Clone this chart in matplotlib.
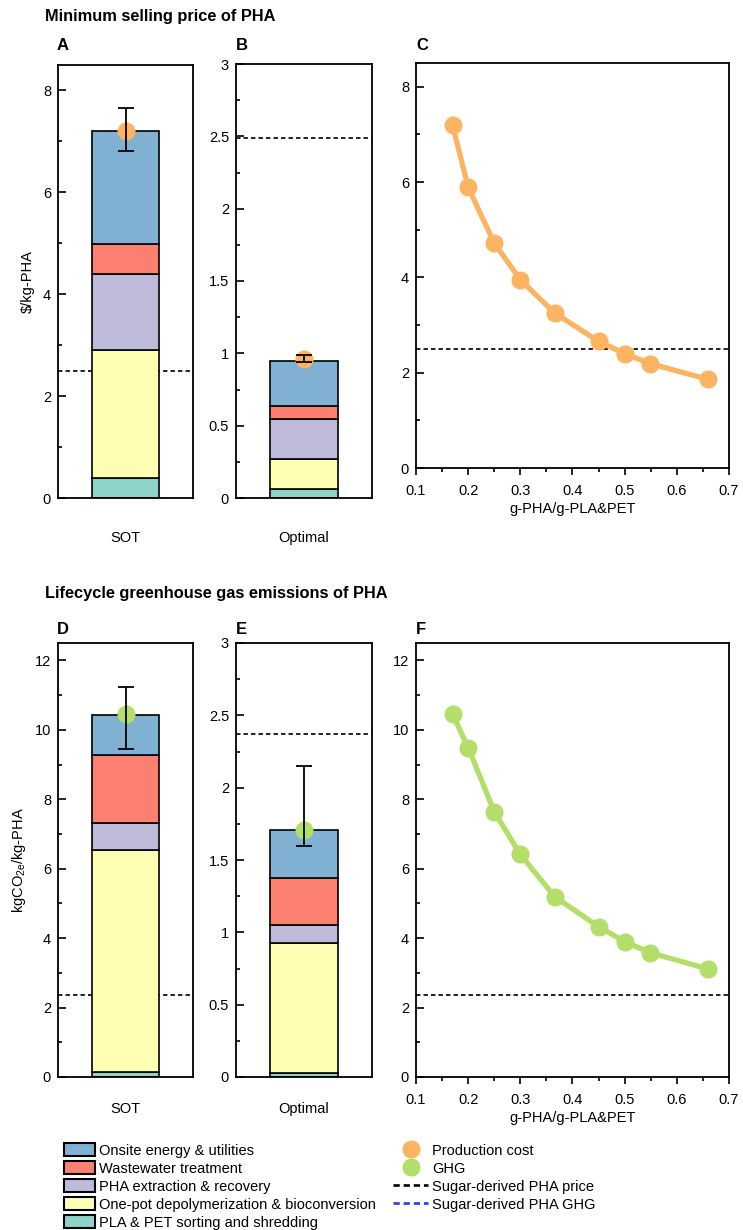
import matplotlib
matplotlib.use("Agg")
import matplotlib.pyplot as plt
from matplotlib.patches import Patch
from matplotlib.lines import Line2D
from matplotlib.ticker import MultipleLocator

plt.rcParams['font.family'] = ['Liberation Sans', 'DejaVu Sans']
plt.rcParams['lines.scale_dashes'] = False

# ---- data ----
stages = ["PLA & PET sorting and shredding",
          "One-pot depolymerization & bioconversion",
          "PHA extraction & recovery",
          "Wastewater treatment",
          "Onsite energy & utilities"]
stage_colors = ["#8DD3C7", "#FFFFB3", "#BEBADA", "#FB8072", "#80B1D3"]

# cost breakdown, $/kg-PHA (bottom to top)
cost_sot = [0.40, 2.50, 1.50, 0.58, 2.22]
cost_opt = [0.06, 0.21, 0.275, 0.09, 0.315]
cost_sot_total, cost_sot_err = 7.20, (0.38, 0.46)
cost_opt_total, cost_opt_err = 0.96, (0.02, 0.03)

# GHG breakdown, kgCO2e/kg-PHA (bottom to top)
ghg_sot = [0.13, 6.42, 0.78, 1.94, 1.16]
ghg_opt = [0.03, 0.894, 0.126, 0.327, 0.328]
ghg_sot_total, ghg_sot_err = 10.45, (1.00, 0.77)
ghg_opt_total, ghg_opt_err = 1.71, (0.11, 0.44)

sugar_pha_price = 2.49
sugar_pha_ghg = 2.37

# sensitivity to PHA yield
yield_ratio = [0.17, 0.20, 0.25, 0.30, 0.366, 0.45, 0.50, 0.549, 0.66]
cost_curve = [7.20, 5.89, 4.72, 3.95, 3.25, 2.66, 2.40, 2.19, 1.86]
ghg_curve = [10.45, 9.49, 7.64, 6.41, 5.19, 4.33, 3.90, 3.58, 3.11]

orange = "#FDB462"
green = "#B3DE69"
FS = 10.5

W, H = 743, 1230
fig = plt.figure(figsize=(W / 100, H / 100), dpi=100)


def px_axes(left, right, top, bottom):
    return fig.add_axes([left / W, 1 - bottom / H, (right - left) / W, (bottom - top) / H])


def style_axis(ax):
    for s in ax.spines.values():
        s.set_linewidth(1.3)
    ax.tick_params(axis='y', which='major', direction='in', length=6, width=1.2,
                   labelsize=FS, pad=5)
    ax.tick_params(axis='y', which='minor', direction='in', length=3, width=1.2)


def stacked(ax, segs, total, err, dot_color, label, ymax, major, minor, ref, pad):
    bottom = 0
    for v, c in zip(segs, stage_colors):
        ax.bar(0, v, width=1.0, bottom=bottom, color=c, edgecolor='black',
               linewidth=1.2, zorder=2)
        bottom += v
    ax.plot([0], [total], 'o', color=dot_color, markersize=12, zorder=3)
    ax.errorbar([0], [total], yerr=[[err[0]], [err[1]]], fmt='none', ecolor='black',
                elinewidth=1.3, capsize=5.8, capthick=1.3, zorder=4)
    ax.axhline(ref, color='black', linewidth=1.2, linestyle=(0, (3.2, 2.2)), zorder=1)
    ax.set_xlim(-1, 1)
    ax.set_ylim(0, ymax)
    ax.yaxis.set_major_locator(MultipleLocator(major))
    ax.yaxis.set_minor_locator(MultipleLocator(minor))
    ax.set_xticks([])
    ax.set_xlabel(label, fontsize=FS, labelpad=pad)
    style_axis(ax)


def curve(ax, y, color, ymax, ref):
    ax.plot(yield_ratio, y, '-o', color=color, linewidth=3.8, markersize=12, zorder=3)
    ax.axhline(ref, color='black', linewidth=1.2, linestyle=(0, (3.2, 2.2)), zorder=2)
    ax.set_xlim(0.1, 0.7)
    ax.set_ylim(0, ymax)
    ax.xaxis.set_minor_locator(MultipleLocator(0.05))
    ax.yaxis.set_major_locator(MultipleLocator(2))
    ax.yaxis.set_minor_locator(MultipleLocator(1))
    ax.set_xticks([0.1, 0.2, 0.3, 0.4, 0.5, 0.6, 0.7])
    ax.set_xticklabels(["0.1", "0.2", "0.3", "0.4", "0.5", "0.6", "0.7"])
    ax.tick_params(axis='x', which='major', direction='out', length=5, width=1.2,
                   labelsize=FS, pad=6.5)
    ax.tick_params(axis='x', which='minor', direction='out', length=3, width=1.2)
    ax.set_xlabel("g-PHA/g-PLA&PET", fontsize=FS, labelpad=3)
    style_axis(ax)


axA = px_axes(58, 193, 65, 498)
axB = px_axes(236, 372, 64, 498)
axC = px_axes(416, 729, 63, 468)
axD = px_axes(58, 193, 643, 1077)
axE = px_axes(236, 372, 643, 1077)
axF = px_axes(416, 729, 643, 1077)

stacked(axA, cost_sot, cost_sot_total, cost_sot_err, orange, "SOT", 8.5, 2, 1, sugar_pha_price, 24)
stacked(axB, cost_opt, cost_opt_total, cost_opt_err, orange, "Optimal", 3.0, 0.5, 0.25, sugar_pha_price, 24)
stacked(axD, ghg_sot, ghg_sot_total, ghg_sot_err, green, "SOT", 12.5, 2, 1, sugar_pha_ghg, 18)
stacked(axE, ghg_opt, ghg_opt_total, ghg_opt_err, green, "Optimal", 3.0, 0.5, 0.25, sugar_pha_ghg, 18)
curve(axC, cost_curve, orange, 8.5, sugar_pha_price)
curve(axF, ghg_curve, green, 12.5, sugar_pha_ghg)

for ax in (axB, axE):
    ax.set_yticks([0, 0.5, 1, 1.5, 2, 2.5, 3])
    ax.set_yticklabels(["0", "0.5", "1", "1.5", "2", "2.5", "3"])

axA.set_ylabel("$/kg-PHA", fontsize=FS, labelpad=6)
axD.set_ylabel(r"kgCO$_{\mathregular{2e}}$/kg-PHA", fontsize=FS, labelpad=5)

# titles and panel letters
fig.text(45 / W, 1 - 16 / H, "Minimum selling price of PHA", fontsize=11.8,
         fontweight='bold', va='center', ha='left')
fig.text(45 / W, 1 - 593 / H, "Lifecycle greenhouse gas emissions of PHA", fontsize=11.8,
         fontweight='bold', va='center', ha='left')
for letter, x, y in [("A", 57, 45), ("B", 236, 45), ("C", 416, 45),
                     ("D", 57, 630), ("E", 236, 630), ("F", 416, 630)]:
    fig.text(x / W, 1 - y / H, letter, fontsize=12, fontweight='bold', va='center', ha='left')

# legends
stage_handles = [Patch(facecolor=c, edgecolor='black', linewidth=1.5)
                 for c in stage_colors[::-1]]
fig.legend(stage_handles, stages[::-1], loc='upper left',
           bbox_to_anchor=(64 / W, 1 - 1143 / H), frameon=False,
           handlelength=2.1, handleheight=1.0, handletextpad=0.3,
           labelspacing=0.24, borderaxespad=0, borderpad=0,
           prop={'size': FS})

other_handles = [Line2D([], [], marker='o', color=orange, linestyle='none', markersize=12),
                 Line2D([], [], marker='o', color=green, linestyle='none', markersize=12),
                 Line2D([], [], color='black', linewidth=1.9, linestyle=(0, (4.5, 2.8))),
                 Line2D([], [], color='#1f3cf0', linewidth=1.9, linestyle=(0, (4.5, 2.8)))]
other_labels = ["Production cost", "GHG", "Sugar-derived PHA price", "Sugar-derived PHA GHG"]
fig.legend(other_handles, other_labels, loc='upper left',
           bbox_to_anchor=(393 / W, 1 - 1143 / H), frameon=False,
           handlelength=2.4, handleheight=1.0, handletextpad=0.27,
           labelspacing=0.24, borderaxespad=0, borderpad=0,
           prop={'size': FS})

fig.savefig("out.png", dpi=100)
